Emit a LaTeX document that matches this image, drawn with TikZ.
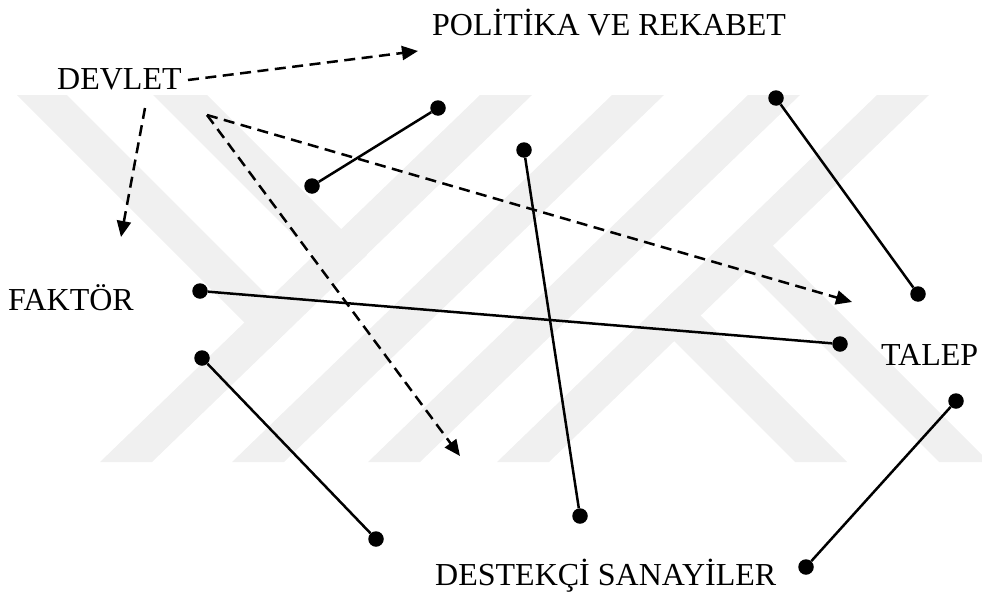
\documentclass[tikz,border=0pt]{standalone}
\usepackage{fontspec}
\setmainfont{Liberation Serif}
\usetikzlibrary{arrows.meta}
\definecolor{wmgray}{RGB}{240,240,240}

\begin{document}
\begin{tikzpicture}[x=1pt, y=-1pt,
    dot/.style={circle, fill=black, minimum size=15.5pt, inner sep=0pt},
    lbl/.style={anchor=base west, inner sep=0pt, font=\fontsize{32}{38}\selectfont},
    link/.style={line width=2.5pt},
    dlink/.style={line width=2.5pt, dash pattern=on 11pt off 6.5pt, -{Triangle[length=16pt,width=14pt]}},
    wmband/.style={fill=wmgray}]
        \useasboundingbox (0,0) rectangle (982,597);
        % watermark
        \foreach \b in {100,232,368,497} {
            \fill[wmband] (\b,462) -- ++(52,0) -- ++(380,-367) -- ++(-52,0) -- cycle;
        }
        \fill[wmband] (17,95) -- (67,95) -- (295,323) -- (270,348) -- cycle;
        \fill[wmband] (153,95) -- (207,95) -- (367,255) -- (339,281) -- cycle;
        \fill[wmband] (649,316) -- (675,290) -- (847,462) -- (795,462) -- cycle;
        \fill[wmband] (722,245) -- (748,221) -- (982,455) -- (982,462) -- (939,462) -- cycle;
        % labels
        \node[lbl] (politika) at (432,35) {POLİTİKA VE REKABET};
        \node[lbl] (devlet) at (57,89) {DEVLET};
        \node[lbl] (faktor) at (8,310) {FAKTÖR};
        \node[lbl] (talep) at (881,365) {TALEP};
        \node[lbl] (sanayi) at (435,585) {DESTEKÇİ SANAYİLER};
        % dashed arrows
        \coordinate (dv-e) at (188,80);
        \coordinate (dv-s) at (145,108);
        \coordinate (dv-se) at (207,115);
        \coordinate (to-pol) at (418,51);
        \coordinate (to-fak) at (121,237);
        \coordinate (to-tal) at (852,302);
        \coordinate (to-san) at (460,456);
        \draw[dlink] (dv-e) -- (to-pol);
        \draw[dlink] (dv-s) -- (to-fak);
        \draw[dlink] (dv-se) -- (to-tal);
        \draw[dlink] (dv-se) -- (to-san);
        % solid links
        \foreach \n/\p/\q in {1/{312,186}/{438,108}, 2/{524,150}/{580,516},
                              3/{776,98}/{918,294}, 4/{200,291}/{840,344},
                              5/{202,358}/{376,539}, 6/{956,401}/{806,567}} {
            \node[dot] (s\n-a) at (\p) {};
            \node[dot] (s\n-b) at (\q) {};
            \draw[link] (s\n-a) -- (s\n-b);
        }
    \end{tikzpicture}
\end{document}
